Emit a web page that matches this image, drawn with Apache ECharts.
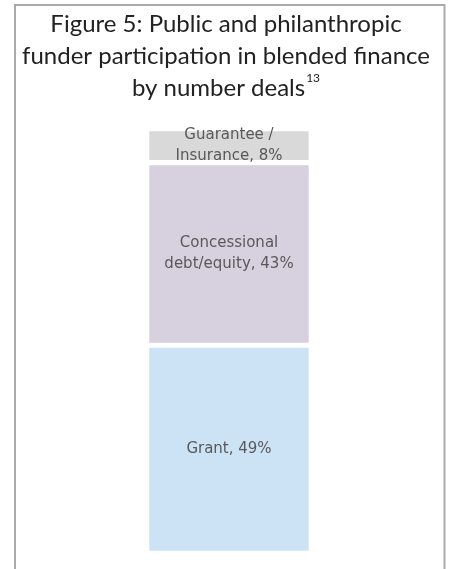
<!DOCTYPE html>
<html lang="en">
<head>
    <meta charset="UTF-8">
    <title>Figure 5</title>
    <script src="https://cdn.jsdelivr.net/npm/echarts@6/dist/echarts.min.js"></script>
</head>
<style>
    html,body{
        padding: 0;
        margin: 0;
        background: #fff;
    }
</style>
<body>
<div id="chart" style="width: 451px;height:569px;"></div>
</body>
<script type="text/javascript">
    // data
    var categories = ['Deals'];
    var seriesNames = ['Grant', 'Concessional debt/equity', 'Guarantee / Insurance'];
    var seriesLabels = ['Grant, 49%', 'Concessional\ndebt/equity, 43%', 'Guarantee /\nInsurance, 8%'];
    var seriesValues = [[49], [43], [8]];
    var seriesColors = ['#cce2f5', '#d6d0df', '#d9d9d9'];

    var myChart = echarts.init(document.getElementById('chart'));

    var series = [];
    for (var i = 0; i < seriesNames.length; i++) {
        series.push({
            name: seriesNames[i],
            type: 'bar',
            stack: 'total',
            barWidth: '100%',
            data: seriesValues[i],
            itemStyle: {
                color: seriesColors[i],
                borderColor: '#fff',
                borderWidth: 2.6
            },
            label: {
                show: true,
                position: 'inside',
                formatter: seriesLabels[i],
                color: '#595959',
                fontFamily: 'DejaVu Sans',
                fontSize: 15,
                lineHeight: 21
            },
            silent: true
        });
    }

    var option = {
        animation: false,
        title: {
            text: 'Figure 5: Public and philanthropic\nfunder participation in blended finance\nby number deals{sup|13}',
            left: 221,
            top: 3,
            textAlign: 'center',
            textStyle: {
                color: '#222',
                fontFamily: 'Lato',
                fontWeight: 'normal',
                fontSize: 24,
                lineHeight: 32,
                rich: {
                    sup: {
                        fontFamily: 'Lato',
                        fontSize: 12,
                        color: '#222',
                        verticalAlign: 'top',
                        padding: [0, 0, 14, 1]
                    }
                }
            }
        },
        graphic: [{
            type: 'polyline',
            shape: { points: [[15, 569], [15, 5], [444.5, 5], [444.5, 569]] },
            style: { stroke: '#aaa', lineWidth: 2, fill: null }
        }],
        grid: {
            left: 146.7,
            right: 139.7,
            top: 128.7,
            bottom: 15.7
        },
        xAxis: {
            type: 'category',
            data: categories,
            show: false
        },
        yAxis: {
            type: 'value',
            min: 0,
            max: 100,
            show: false
        },
        series: series
    };

    myChart.setOption(option);
</script>
</html>
